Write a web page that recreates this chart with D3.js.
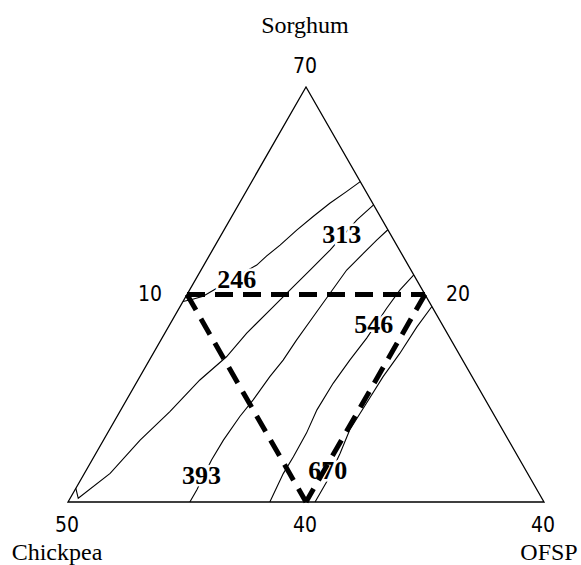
<!DOCTYPE html>
<html>
<head>
<meta charset="utf-8">
<script src="https://cdn.jsdelivr.net/npm/d3@7"></script>
<style>
  html, body { margin: 0; padding: 0; background: #ffffff; }
  svg { display: block; }
</style>
</head>
<body>
<svg id="chart" width="581" height="565"></svg>
<script>
// Corner components: [top, bottom-left, bottom-right]
const components = ["Sorghum", "Chickpea", "OFSP"];

// Tick labels at the corners and side midpoints, with their
// pseudo-component percentages [sorghum, chickpea, ofsp]
const tickLabels = ["70", "10", "20", "50", "40", "40"];
const tickPoints = [[100, 0, 0], [50, 50, 0], [50, 0, 50], [0, 100, 0], [0, 50, 50], [0, 0, 100]];

// Response contour levels
const contourLevels = [246, 313, 393, 546, 670];

// Contour paths, each point as [sorghum, chickpea, ofsp] (%)
const contour246 = [[77.2, 0, 22.8], [74.8, 4.1, 21.1], [72.0, 9.0, 19.0], [68.8, 14.1, 17.1], [65.5, 19.2, 15.3],
  [61.9, 24.5, 13.6], [59.3, 28.6, 12.1], [57.1, 31.8, 11.1], [51.5, 43.0, 5.5], [49.6, 46.8, 3.6],
  [48.8, 49.6, 1.6], [48.3, 51.7, 0]];
const contour313 = [[71.6, 0, 28.4], [68.0, 5.3, 26.7], [60.7, 14.6, 24.7], [55.9, 21.2, 22.9], [51.9, 26.7, 21.4],
  [47.1, 33.3, 19.6], [40.7, 42.1, 17.2], [35.0, 49.2, 15.8], [29.4, 57.6, 13.0], [21.8, 67.7, 10.5],
  [14.9, 77.4, 7.7], [6.9, 87.7, 5.4], [0.9, 97.4, 1.7], [3.3, 96.7, 0]];
const contour393 = [[65.6, 0, 34.4], [63.1, 3.6, 33.3], [59.9, 8.0, 32.1], [55.9, 13.5, 30.6], [50.3, 19.8, 29.9],
  [44.7, 26.1, 29.2], [39.0, 32.5, 28.5], [34.2, 37.7, 28.1], [30.2, 42.5, 27.3], [24.6, 48.8, 26.6],
  [20.6, 53.6, 25.8], [14.9, 59.9, 25.2], [10.1, 64.8, 25.1], [2.9, 71.5, 25.6], [0, 74.4, 25.6]];
const contour546 = [[54.7, 0, 45.3], [51.1, 4.7, 44.2], [46.7, 9.7, 43.6], [39.5, 17.5, 43.0], [34.2, 23.7, 42.1],
  [28.6, 30.0, 41.4], [22.2, 36.6, 41.2], [16.6, 41.6, 41.8], [10.9, 47.2, 41.9], [6.9, 51.3, 41.8],
  [0, 57.6, 42.4]];
const contour670 = [[47.1, 0, 52.9], [42.2, 5.6, 52.2], [35.8, 12.4, 51.8], [30.2, 18.7, 51.1], [23.8, 25.4, 50.8],
  [17.4, 32.1, 50.5], [11.7, 37.0, 51.3], [4.9, 43.2, 51.9], [0, 48.1, 51.9]];

// Where each level's label sits on its contour
const contourLabelPoints = [[53.7, 37.7, 8.6], [64.6, 10.2, 25.2], [6.5, 68.7, 24.8], [42.9, 14.3, 42.8], [7.7, 41.6, 50.7]];

// Dashed sub-region joining the side midpoints
const regionPoints = [[50, 50, 0], [50, 0, 50], [0, 50, 50]];

const contours = [contour246, contour313, contour393, contour546, contour670];

const svg = d3.select("#chart");

// Ternary projection: height follows sorghum, horizontal position follows ofsp + sorghum/2
const y = d3.scaleLinear().domain([0, 100]).range([502, 87]);
const x = d3.scaleLinear().domain([0, 100]).range([68, 544]);
const project = ([s, c, o]) => [x(o + s / 2), y(s)];

const line = d3.line().x(d => project(d)[0]).y(d => project(d)[1]);

// Triangle outline
svg.append("path")
  .attr("d", line([[100, 0, 0], [0, 100, 0], [0, 0, 100]]) + "Z")
  .attr("fill", "none")
  .attr("stroke", "#000")
  .attr("stroke-width", 1.3)
  .attr("stroke-linejoin", "miter");

// Contour lines
svg.append("g").selectAll("path")
  .data(contours)
  .join("path")
  .attr("d", d => line(d))
  .attr("fill", "none")
  .attr("stroke", "#000")
  .attr("stroke-width", 1.1);

// Contour level labels (white halo breaks the line beneath)
svg.append("g").selectAll("text")
  .data(contourLevels)
  .join("text")
  .attr("x", (d, i) => project(contourLabelPoints[i])[0])
  .attr("y", (d, i) => project(contourLabelPoints[i])[1])
  .attr("dy", "0.34em")
  .attr("text-anchor", "middle")
  .attr("font-family", "'Liberation Serif', 'Times New Roman', serif")
  .attr("font-weight", "bold")
  .attr("font-size", 26)
  .attr("paint-order", "stroke")
  .attr("stroke", "#fff")
  .attr("stroke-width", 5)
  .attr("fill", "#000")
  .text(d => d);

// Dashed region edges, each drawn from its first corner
const regionEdges = [[regionPoints[0], regionPoints[1]], [regionPoints[0], regionPoints[2]], [regionPoints[1], regionPoints[2]]];
svg.append("g").selectAll("path")
  .data(regionEdges)
  .join("path")
  .attr("d", d => line(d))
  .attr("fill", "none")
  .attr("stroke", "#000")
  .attr("stroke-width", 5)
  .attr("stroke-dasharray", "18,10");

// Tick labels at corners and midpoints
const tickFont = "'DejaVu Sans Condensed', 'DejaVu Sans', sans-serif";
svg.append("g").selectAll("text")
  .data(tickLabels)
  .join("text")
  .each(function (d, i) {
    const p = tickPoints[i];
    const [px, py] = project(p);
    const t = d3.select(this);
    if (p[0] === 100) {
      t.attr("x", px - 1).attr("y", py - 14).attr("text-anchor", "middle");
    } else if (p[0] === 0) {
      t.attr("x", px - 1).attr("y", py + 30).attr("text-anchor", "middle");
    } else if (p[1] > 0) {
      t.attr("x", px - 25).attr("y", py + 6).attr("text-anchor", "end");
    } else {
      t.attr("x", px + 21).attr("y", py + 6).attr("text-anchor", "start");
    }
  })
  .attr("font-family", tickFont)
  .attr("font-stretch", "condensed")
  .attr("font-size", 21)
  .attr("fill", "#000")
  .text(d => d);

// Component names
const titleFont = "'Liberation Serif', 'Times New Roman', serif";
const titleSpots = [[100, 0, 0], [0, 100, 0], [0, 0, 100]];
svg.append("g").selectAll("text")
  .data(components)
  .join("text")
  .attr("x", (d, i) => project(titleSpots[i])[0] + [-1, -11, 5][i])
  .attr("y", (d, i) => project(titleSpots[i])[1] + [-54, 58, 58][i])
  .attr("text-anchor", "middle")
  .attr("font-family", titleFont)
  .attr("font-size", 24)
  .attr("fill", "#000")
  .text(d => d);
</script>
</body>
</html>
